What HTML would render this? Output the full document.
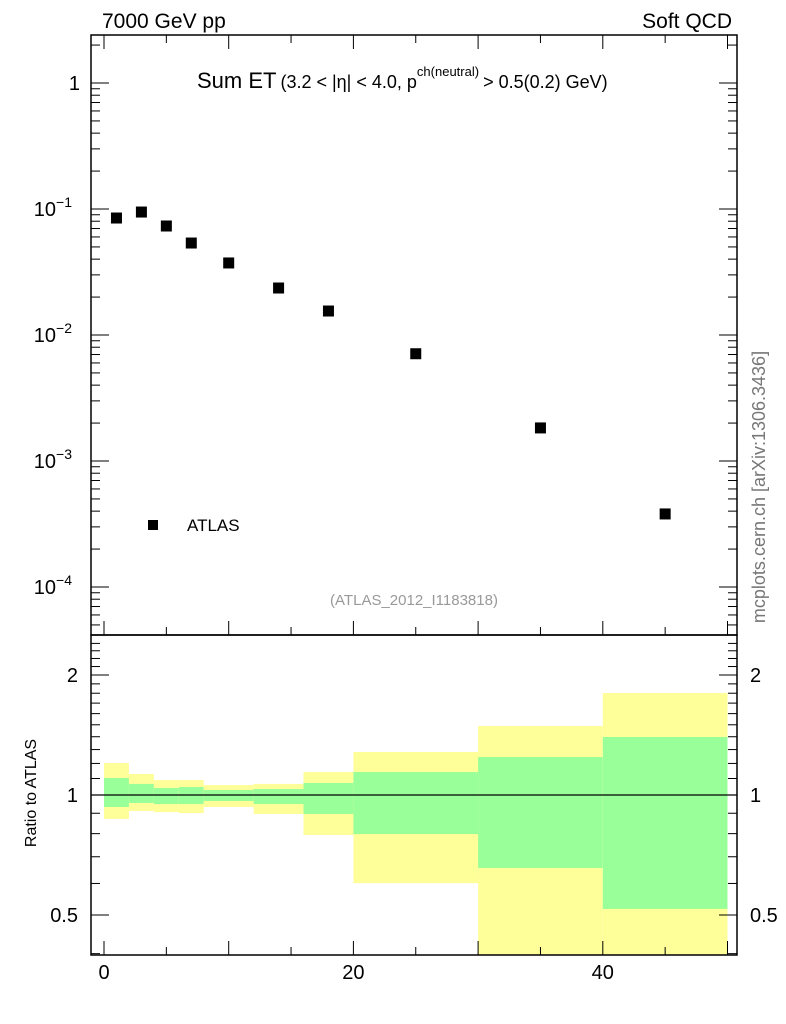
<!DOCTYPE html>
<html><head><meta charset="utf-8"><style>
body{margin:0;background:#fff;}
svg{display:block;font-family:"Liberation Sans",sans-serif;}
</style></head><body>
<svg id="c" width="786" height="1024" viewBox="0 0 786 1024">
<g id="ratio"></g>
<g id="main"></g>
<g id="axes"></g>
<text x="102" y="28" font-size="21">7000 GeV pp</text>
<text x="732" y="28" font-size="21" text-anchor="end">Soft QCD</text>
<text x="197" y="88" font-size="22">Sum ET<tspan font-size="18" dx="4">(3.2 &lt; |η| &lt; 4.0, p</tspan><tspan font-size="13" dy="-12">ch(neutral)</tspan><tspan font-size="18" dy="12" dx="4">&gt; 0.5(0.2) GeV)</tspan></text>
<rect x="148" y="520" width="10" height="10" fill="#000"/>
<text x="187" y="531" font-size="17">ATLAS</text>
<text x="414" y="605" font-size="15" fill="#999" text-anchor="middle">(ATLAS_2012_I1183818)</text>
<text transform="translate(765,487) rotate(-90)" font-size="18" fill="#777" text-anchor="middle">mcplots.cern.ch [arXiv:1306.3436]</text>
<text transform="translate(36,793) rotate(-90)" font-size="16" text-anchor="middle">Ratio to ATLAS</text>
</svg>
<script>
const xCenters=[1,3,5,7,10,14,18,25,35,45];
const yValues=[0.0848,0.0946,0.0733,0.0537,0.0373,0.0236,0.0155,0.0071,0.00183,0.00038];
const binEdges=[0,2,4,6,8,12,16,20,30,40,50];
const yellowHi=[1.203,1.129,1.090,1.090,1.059,1.066,1.142,1.282,1.490,1.802];
const greenHi=[1.103,1.066,1.041,1.047,1.029,1.035,1.072,1.142,1.245,1.398];
const greenLo=[0.933,0.955,0.949,0.949,0.966,0.949,0.896,0.798,0.656,0.518];
const yellowLo=[0.871,0.912,0.906,0.901,0.933,0.896,0.794,0.601,0.3,0.3];
const xTickLabels=[0,20,40];
const yTickExps=[0,-1,-2,-3,-4];
const rTickLabels=[0.5,1,2];

const NS="http://www.w3.org/2000/svg";
const L=91,R=737,T=35,M=635,B=955;
const X=v=>104+v*12.47;
const Y=v=>83-Math.log10(v)*126;
const RY=v=>795-Math.log10(v)*398.7;
const cl=(y,a,b)=>Math.max(a,Math.min(b,y));
function mk(tag,at,parent){const e=document.createElementNS(NS,tag);for(const k in at)e.setAttribute(k,at[k]);document.getElementById(parent).appendChild(e);return e;}

for(let i=0;i<yellowHi.length;i++){
  const x0=X(binEdges[i]),x1=X(binEdges[i+1]);
  let y0=cl(RY(yellowHi[i]),M,B),y1=cl(RY(yellowLo[i]),M,B);
  let e=mk('rect',{x:x0,y:y0,width:x1-x0,height:y1-y0,fill:'#ffff99'},'ratio');
  
  
  y0=cl(RY(greenHi[i]),M,B);y1=cl(RY(greenLo[i]),M,B);
  e=mk('rect',{x:x0,y:y0,width:x1-x0,height:y1-y0,fill:'#99ff99'},'ratio');
  
  
}
let ln=mk('line',{x1:L,x2:R,y1:RY(1),y2:RY(1),stroke:'#000','stroke-width':1.3},'ratio');



for(let i=0;i<xCenters.length;i++){
  const p=mk('rect',{x:X(xCenters[i])-5.5,y:Y(yValues[i])-5.5,width:11,height:11,fill:'#000'},'main');
  
  
}

mk('rect',{x:L,y:T,width:R-L,height:M-T,fill:'none',stroke:'#000','stroke-width':1.5},'axes');
mk('rect',{x:L,y:M,width:R-L,height:B-M,fill:'none',stroke:'#000','stroke-width':1.5},'axes');
function tk(x1,y1,x2,y2){mk('line',{x1,y1,x2,y2,stroke:'#000','stroke-width':1},'axes');}
for(let v=0;v<=50;v+=5){const x=X(v),len=(v%10===0)?14:8;
  tk(x,B,x,B-len);tk(x,M,x,M-len);tk(x,T,x,T+len);}
for(const v of xTickLabels){const t=mk('text',{x:X(v),y:979,'font-size':20,'text-anchor':'middle'},'axes');t.textContent=v;
  
  }
for(let e=-5;e<=0;e++){for(let m=1;m<10;m++){const v=m*Math.pow(10,e);const y=Y(v);if(y<T||y>M)continue;
  const len=m===1?18:9;tk(L,y,L+len,y);tk(R,y,R-len,y);}}
for(const e of yTickExps){const t=mk('text',{x:e===0?80:72,y:Y(Math.pow(10,e))+7,'font-size':20,'text-anchor':'end'},'axes');
  if(e===0)t.textContent='1';else{t.textContent='10';const s=document.createElementNS(NS,'tspan');s.setAttribute('dy','-9');s.setAttribute('font-size','14');s.textContent=String(e).replace('-','−');t.appendChild(s);}
  
  }
for(const v of [0.4,0.5,0.6,0.7,0.8,0.9,1,2]){const y=RY(v);const len=(v===0.5||v===1||v===2)?18:9;tk(L,y,L+len,y);tk(R,y,R-len,y);}
for(let v=1.1;v<2.5;v+=0.1){if(Math.abs(v-2)<0.01)continue;const y=RY(v);if(y<M)continue;tk(L,y,L+9,y);tk(R,y,R-9,y);}
for(const v of rTickLabels){
  let t=mk('text',{x:78,y:RY(v)+7,'font-size':20,'text-anchor':'end'},'axes');t.textContent=v;
  
  
  t=mk('text',{x:750,y:RY(v)+7,'font-size':20},'axes');t.textContent=v;
  
  }
</script>
</body></html>
